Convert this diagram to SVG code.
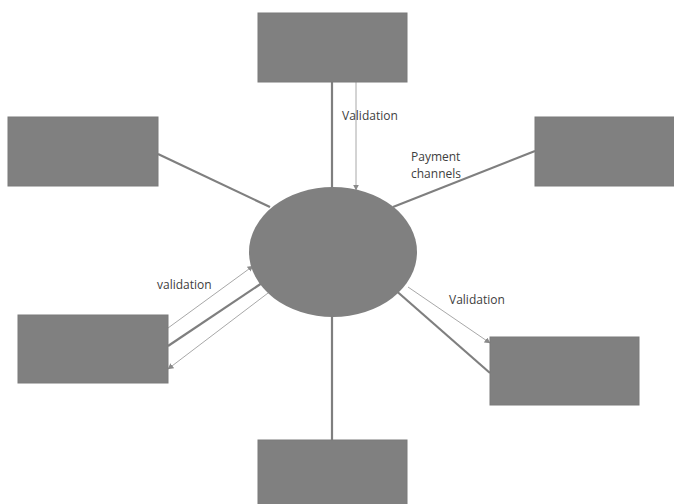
<svg xmlns="http://www.w3.org/2000/svg" width="674" height="504" viewBox="0 0 674 504">
<style>
.box{fill:#808080;stroke:#7a7a7a;stroke-width:1}
.thick{stroke:#7f7f7f;stroke-width:2.2;fill:none}
.thin{stroke:#a8a8a8;stroke-width:1;fill:none}
.lbl{font-family:"Open Sans","Liberation Sans",sans-serif;font-size:12px;fill:#404040}
</style>
<defs>
<marker id="ah" viewBox="0 0 10 10" refX="9" refY="5" markerWidth="6" markerHeight="6" orient="auto" markerUnits="userSpaceOnUse">
<path d="M0,0 L10,5 L0,10 z" fill="#8a8a8a"/>
</marker>
</defs>
<rect width="674" height="504" fill="#ffffff"/>
<g id="connectors">
<line class="thick" x1="332" y1="82" x2="332" y2="188"/>
<line class="thin" x1="356" y1="82" x2="356" y2="190" marker-end="url(#ah)"/>
<line class="thick" x1="158" y1="154" x2="270" y2="207"/>
<line class="thick" x1="535" y1="151" x2="393" y2="207"/>
<line class="thin" x1="168" y1="328" x2="253" y2="266" marker-end="url(#ah)"/>
<line class="thick" x1="168" y1="346" x2="262" y2="283"/>
<line class="thin" x1="272" y1="290" x2="168" y2="369" marker-end="url(#ah)"/>
<line class="thin" x1="408" y1="287" x2="490" y2="343" marker-end="url(#ah)"/>
<line class="thick" x1="393" y1="288" x2="490" y2="373"/>
<line class="thick" x1="332" y1="316" x2="332" y2="440"/>
</g>
<g id="center"><ellipse cx="333" cy="252" rx="84" ry="65" fill="#808080"/></g>
<g id="top"><rect class="box" x="258" y="13" width="149" height="69"/></g>
<g id="left"><rect class="box" x="8" y="117" width="150" height="69"/></g>
<g id="right"><rect class="box" x="535" y="117" width="140" height="69"/></g>
<g id="lowerleft"><rect class="box" x="18" y="315" width="150" height="68"/></g>
<g id="lowerright"><rect class="box" x="490" y="337" width="149" height="68"/></g>
<g id="bottom"><rect class="box" x="258" y="440" width="149" height="66"/></g>
<g id="labels">
<text class="lbl" x="342" y="120">Validation</text>
<text class="lbl" x="411" y="161">Payment</text>
<text class="lbl" x="411" y="178">channels</text>
<text class="lbl" x="157" y="289">validation</text>
<text class="lbl" x="449" y="304">Validation</text>
</g>
</svg>
